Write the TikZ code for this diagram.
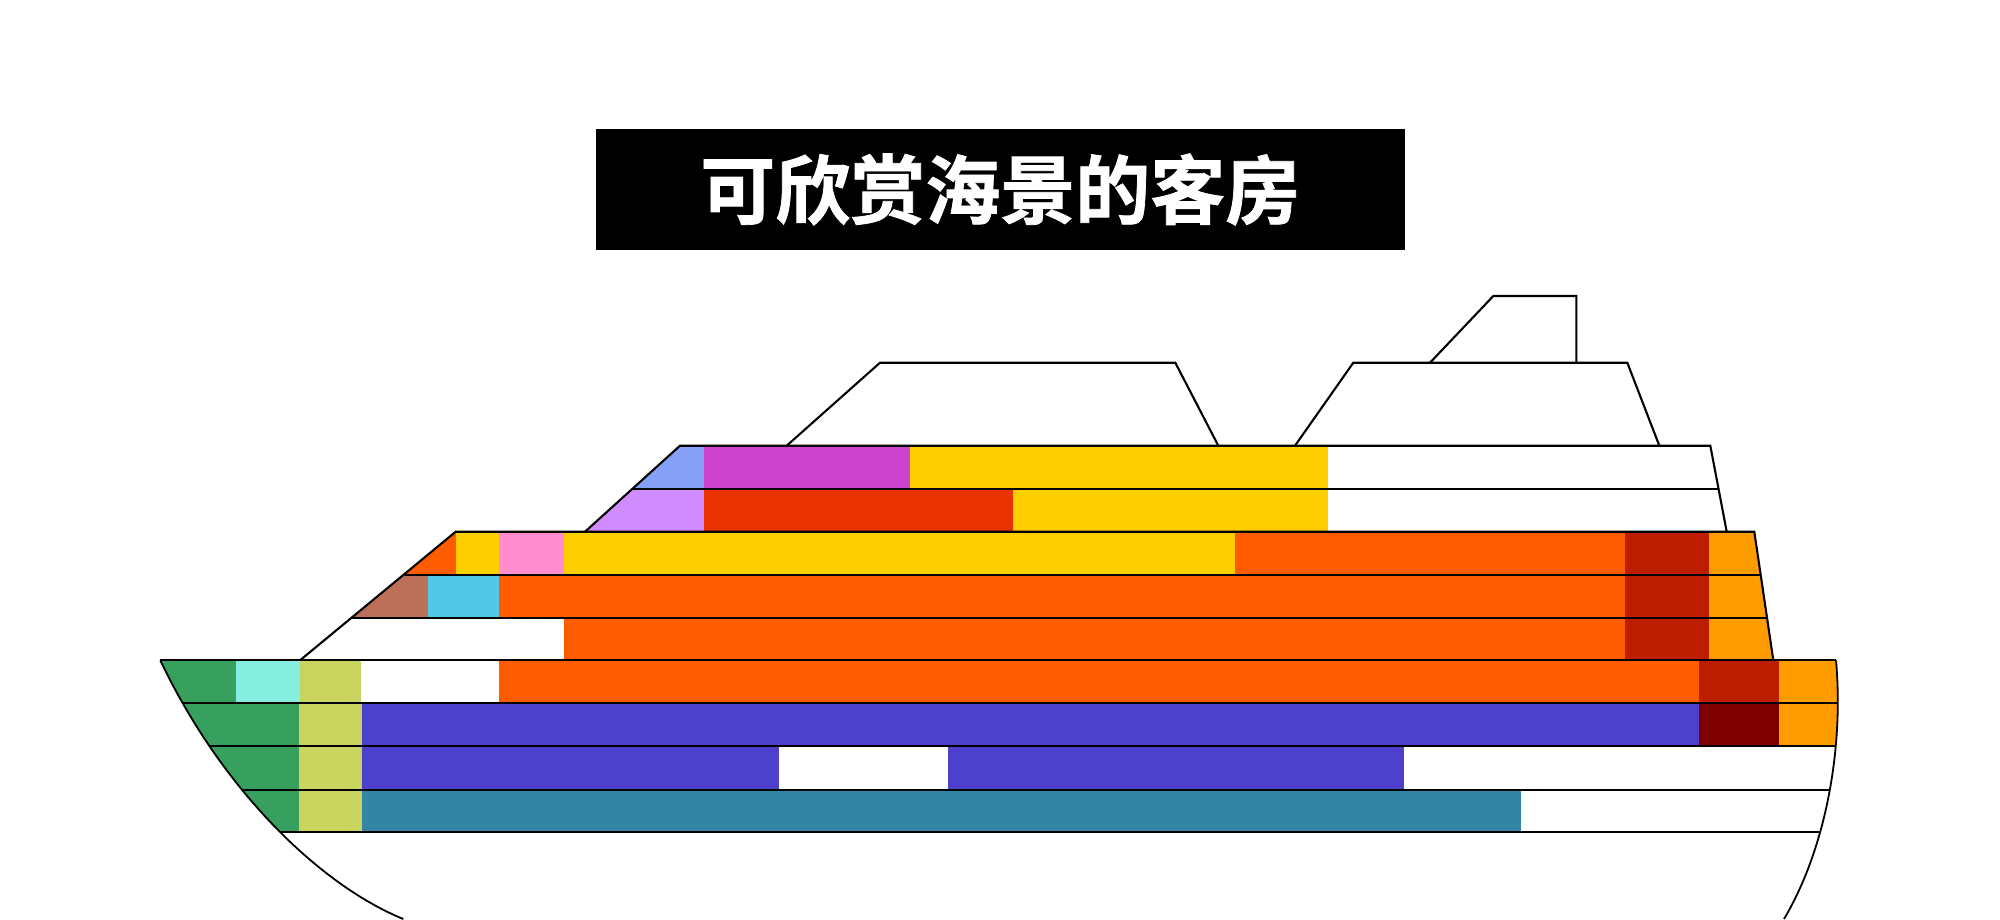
\documentclass[tikz,border=0pt]{standalone}
\usepackage{fontspec}
\newfontfamily\cjk[FakeBold=1]{Noto Sans CJK SC Bold}
\definecolor{cGreen}{HTML}{38A05E}
\definecolor{cAqua}{HTML}{86EEDF}
\definecolor{cOlive}{HTML}{C9D45E}
\definecolor{cOrange}{HTML}{FF5C00}
\definecolor{cPurple}{HTML}{4D40CC}
\definecolor{cTeal}{HTML}{3484A6}
\definecolor{cAmber}{HTML}{FF9D00}
\definecolor{cRed}{HTML}{BE1E00}
\definecolor{cMaroon}{HTML}{800000}
\definecolor{cYellow}{HTML}{FFCE00}
\definecolor{cPink}{HTML}{FF8CCC}
\definecolor{cCyan}{HTML}{52C8E6}
\definecolor{cBrown}{HTML}{BC705A}
\definecolor{cPeri}{HTML}{86A0F5}
\definecolor{cMagenta}{HTML}{CC44CC}
\definecolor{cLilac}{HTML}{D08CFF}
\definecolor{cScarlet}{HTML}{E93300}
\tikzset{x=1pt,y=-1pt,shipline/.style={draw=black,line width=2.1pt,line join=miter},
 hullline/.style={draw=black,line width=1.8pt}}
\begin{document}
\begin{tikzpicture}
\useasboundingbox (0,0) rectangle (2000,919);
\begin{scope}
\clip (160.3,660.3) .. controls (222,790) and (320,885) .. (403.3,919) -- (1784,919) .. controls (1825,850) and (1844,750) .. (1836,660.3) -- cycle;
\fill[cGreen] (150,660.3) rectangle (236,703.3);
\fill[cAqua] (236,660.3) rectangle (299.5,703.3);
\fill[cOlive] (299.5,660.3) rectangle (361,703.3);
\fill[cOrange] (499.3,660.3) rectangle (1698.7,703.3);
\fill[cRed] (1698.7,660.3) rectangle (1779.3,703.3);
\fill[cAmber] (1779.3,660.3) rectangle (1845,703.3);
\fill[cGreen] (150,703.3) rectangle (299.3,746.3);
\fill[cOlive] (299.3,703.3) rectangle (361.5,746.3);
\fill[cPurple] (361.5,703.3) rectangle (1698.7,746.3);
\fill[cMaroon] (1698.7,703.3) rectangle (1779.3,746.3);
\fill[cAmber] (1779.3,703.3) rectangle (1845,746.3);
\fill[cGreen] (150,746.3) rectangle (299.3,789.7);
\fill[cOlive] (299.3,746.3) rectangle (361.5,789.7);
\fill[cPurple] (361.5,746.3) rectangle (779.2,789.7);
\fill[cPurple] (948,746.3) rectangle (1404.3,789.7);
\fill[cGreen] (150,789.7) rectangle (299.3,832.3);
\fill[cOlive] (299.3,789.7) rectangle (361.5,832.3);
\fill[cTeal] (361.5,789.7) rectangle (1521,832.3);
\end{scope}
\begin{scope}
\clip (455.7,531.7) -- (300,660.3) -- (1773.3,660.3) -- (1754.3,531.7) -- cycle;
\fill[cOrange] (400,531.7) rectangle (456,574.7);
\fill[cYellow] (456,531.7) rectangle (499.3,574.7);
\fill[cPink] (499.3,531.7) rectangle (563.7,574.7);
\fill[cYellow] (563.7,531.7) rectangle (1235.3,574.7);
\fill[cOrange] (1235.3,531.7) rectangle (1625.3,574.7);
\fill[cBrown] (340,574.7) rectangle (428.3,617.7);
\fill[cCyan] (428.3,574.7) rectangle (499.3,617.7);
\fill[cOrange] (499.3,574.7) rectangle (1625.3,617.7);
\fill[cOrange] (563.7,617.7) rectangle (1625.3,660.3);
\fill[cRed] (1625.3,531.7) rectangle (1709.3,660.3);
\fill[cAmber] (1709.3,531.7) rectangle (1780,660.3);
\end{scope}
\begin{scope}
\clip (680,445.7) -- (585,531.7) -- (1726.7,531.7) -- (1710.3,445.7) -- cycle;
\fill[cPeri] (580,445.7) rectangle (703.5,489);
\fill[cMagenta] (703.5,445.7) rectangle (910,489);
\fill[cYellow] (910,445.7) rectangle (1327.7,489);
\fill[cLilac] (580,489) rectangle (703.5,531.7);
\fill[cScarlet] (703.5,489) rectangle (1013,531.7);
\fill[cYellow] (1013,489) rectangle (1327.7,531.7);
\end{scope}
% hull outline
\draw[hullline] (160.3,660.3) .. controls (222,790) and (320,885) .. (403.3,919);
\draw[hullline] (1836,660.3) .. controls (1844,750) and (1825,850) .. (1784,919);
% deck lines
\draw[shipline] (160.3,660.3) -- (1836,660.3);
\draw[shipline] (182.3,703.3) -- (1837.7,703.3);
\draw[shipline] (209.3,746.3) -- (1835,746.3);
\draw[shipline] (241,789.7) -- (1829.3,789.7);
\draw[shipline] (281,832.3) -- (1819.3,832.3);
\draw[shipline] (300,660.3) -- (455.7,531.7) -- (1754.3,531.7) -- (1773.3,660.3);
\draw[shipline] (405,574.7) -- (1759.7,574.7);
\draw[shipline] (351.7,617.7) -- (1766.7,617.7);
\draw[shipline] (585,531.7) -- (680,445.7) -- (1710.3,445.7) -- (1726.7,531.7);
\draw[shipline] (632.3,488.7) -- (1718,488.7);
\draw[shipline] (786.7,445.7) -- (880,362.7) -- (1175.3,362.7) -- (1218.3,445.7);
\draw[shipline] (1295,445.7) -- (1353.3,362.7) -- (1627.3,362.7) -- (1659.3,445.7);
\draw[shipline] (1430,362.7) -- (1493.3,296) -- (1576.3,296) -- (1576.3,362.7);
\node[fill=black,text=white,minimum width=809pt,minimum height=121pt,inner sep=0pt,anchor=center,font=\cjk\fontsize{75}{80}\selectfont] (title) at (1000.3,189.5) {可欣赏海景的客房};
\end{tikzpicture}
\end{document}
